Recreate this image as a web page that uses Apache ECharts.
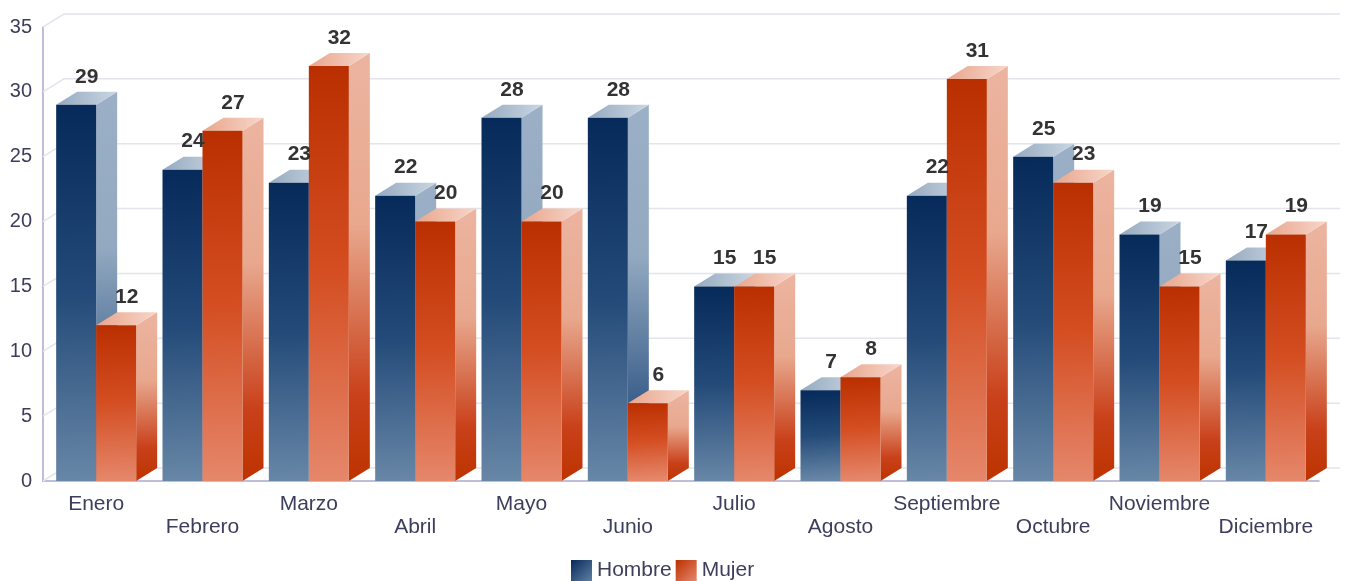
<!DOCTYPE html>
<html>
<head>
<meta charset="utf-8">
<title>Hombre / Mujer por mes</title>
<script src="https://cdn.jsdelivr.net/npm/echarts@6/dist/echarts.min.js"></script>
<style>
  html, body { margin: 0; padding: 0; background: #fff; }
  #chart { width: 1346px; height: 581px; }
</style>
</head>
<body>
<div id="chart"></div>
<script>
// datos
const months = ['Enero', 'Febrero', 'Marzo', 'Abril', 'Mayo', 'Junio', 'Julio', 'Agosto', 'Septiembre', 'Octubre', 'Noviembre', 'Diciembre'];
const hombre = [29, 24, 23, 22, 28, 28, 15, 7, 22, 25, 19, 17];
const mujer = [12, 27, 32, 20, 20, 6, 15, 8, 31, 23, 15, 19];
const yTicks = [0, 5, 10, 15, 20, 25, 30, 35];

// efecto 3d
const DX = 21;
const DY = 13;
const BAR_W = 40;
const FONT = 'Liberation Sans, Arial, sans-serif';

const lg = (x2, y2, stops) => new echarts.graphic.LinearGradient(0, 0, x2, y2,
  stops.map((c, i) => ({ offset: c[0], color: c[1] })));

const blue = {
  front: () => lg(0.15, 1, [[0, '#062a5a'], [0.5, '#234a78'], [1, '#6887a7']]),
  side: () => lg(0, 1, [[0, '#9bb0c6'], [0.4, '#93a9c0'], [0.85, '#2e5583'], [1, '#2a5180']]),
  top: () => lg(1, 0, [[0, '#95aac0'], [1, '#cad6e2']])
};
const red = {
  front: () => lg(0.15, 1, [[0, '#ba2f00'], [0.5, '#d44e22'], [1, '#e5876b']]),
  side: () => lg(0, 1, [[0, '#ecb4a0'], [0.4, '#e8a88e'], [0.8, '#c9411a'], [1, '#bd3300']]),
  top: () => lg(1, 0, [[0, '#e9a68c'], [1, '#f7d6ca']])
};

function barRender(left, col) {
  return function (params, api) {
    const idx = api.value(0);
    const v = api.value(1);
    const base = api.coord([idx, 0]);
    const top = api.coord([idx, v]);
    const x0 = left ? base[0] - BAR_W : base[0];
    const x1 = x0 + BAR_W;
    const yb = base[1];
    const yt = top[1];
    return {
      type: 'group',
      children: [
        { type: 'polygon', shape: { points: [[x1, yt], [x1 + DX, yt - DY], [x1 + DX, yb - DY], [x1, yb]] }, style: { fill: col.side() } },
        { type: 'polygon', shape: { points: [[x0, yt], [x1, yt], [x1 + DX, yt - DY], [x0 + DX, yt - DY]] }, style: { fill: col.top() } },
        { type: 'rect', shape: { x: x0, y: yt, width: BAR_W, height: yb - yt }, style: { fill: col.front() } }
      ]
    };
  };
}

function labelRender(left) {
  return function (params, api) {
    const idx = api.value(0);
    const v = api.value(1);
    const base = api.coord([idx, 0]);
    const top = api.coord([idx, v]);
    const x0 = left ? base[0] - BAR_W : base[0];
    return {
      type: 'text',
      style: {
        x: x0 + BAR_W / 2 + DX / 2,
        y: top[1] - DY - 15,
        text: String(v),
        fill: '#333333',
        font: 'bold 21px ' + FONT,
        align: 'center',
        verticalAlign: 'middle'
      }
    };
  };
}

function gridRender(params, api) {
  const v = api.value(1);
  const band = api.size([1, 0])[0];
  const p = api.coord([0, v]);
  const l = p[0] - band / 2;
  const r = api.coord([months.length - 1, v])[0] + band / 2;
  const y = p[1];
  return {
    type: 'polyline',
    shape: { points: [[l, y], [l + DX, y - DY], [r + DX, y - DY]] },
    style: { stroke: '#e4e4ec', lineWidth: 1.5, fill: null }
  };
}

const chart = echarts.init(document.getElementById('chart'));

chart.setOption({
  animation: false,
  grid: { left: 43, right: 27, top: 27, bottom: 100 },
  legend: {
    data: ['Hombre', 'Mujer'],
    left: 571,
    top: 560,
    padding: 0,
    icon: 'rect',
    itemWidth: 21,
    itemHeight: 21,
    itemGap: 4,
    textStyle: { fontSize: 21, color: '#3d3d5c', fontFamily: FONT }
  },
  xAxis: {
    type: 'category',
    data: months,
    axisLine: { lineStyle: { color: '#a9a9cf', width: 1.5 } },
    axisTick: { show: false },
    axisLabel: {
      interval: 0,
      margin: 12,
      fontSize: 21,
      lineHeight: 23,
      color: '#3d3d5c',
      fontFamily: FONT,
      formatter: (val, i) => (i % 2 ? '\n' + val : val)
    }
  },
  yAxis: {
    type: 'value',
    min: 0,
    max: 35,
    interval: 5,
    axisLine: { show: true, lineStyle: { color: '#a9a9cf', width: 1.5 } },
    axisTick: { show: false },
    splitLine: { show: false },
    axisLabel: { fontSize: 20, color: '#3d3d5c', margin: 11, fontFamily: FONT }
  },
  series: [
    {
      type: 'custom', name: 'grid', silent: true, z: 1,
      data: yTicks.map(v => [0, v]),
      renderItem: gridRender
    },
    {
      type: 'custom', name: 'Hombre', z: 2,
      itemStyle: { color: lg(1, 1, [[0, '#062a5a'], [1, '#5f80a3']]) },
      data: hombre.map((v, i) => [i, v]),
      encode: { x: 0, y: 1 },
      renderItem: barRender(true, blue)
    },
    {
      type: 'custom', name: 'Mujer', z: 2,
      itemStyle: { color: lg(1, 1, [[0, '#bb3000'], [1, '#e5876b']]) },
      data: mujer.map((v, i) => [i, v]),
      encode: { x: 0, y: 1 },
      renderItem: barRender(false, red)
    },
    {
      type: 'custom', name: 'labelsH', silent: true, z: 3,
      data: hombre.map((v, i) => [i, v]),
      encode: { x: 0, y: 1 },
      renderItem: labelRender(true)
    },
    {
      type: 'custom', name: 'labelsM', silent: true, z: 3,
      data: mujer.map((v, i) => [i, v]),
      encode: { x: 0, y: 1 },
      renderItem: labelRender(false)
    }
  ]
});
</script>
</body>
</html>
